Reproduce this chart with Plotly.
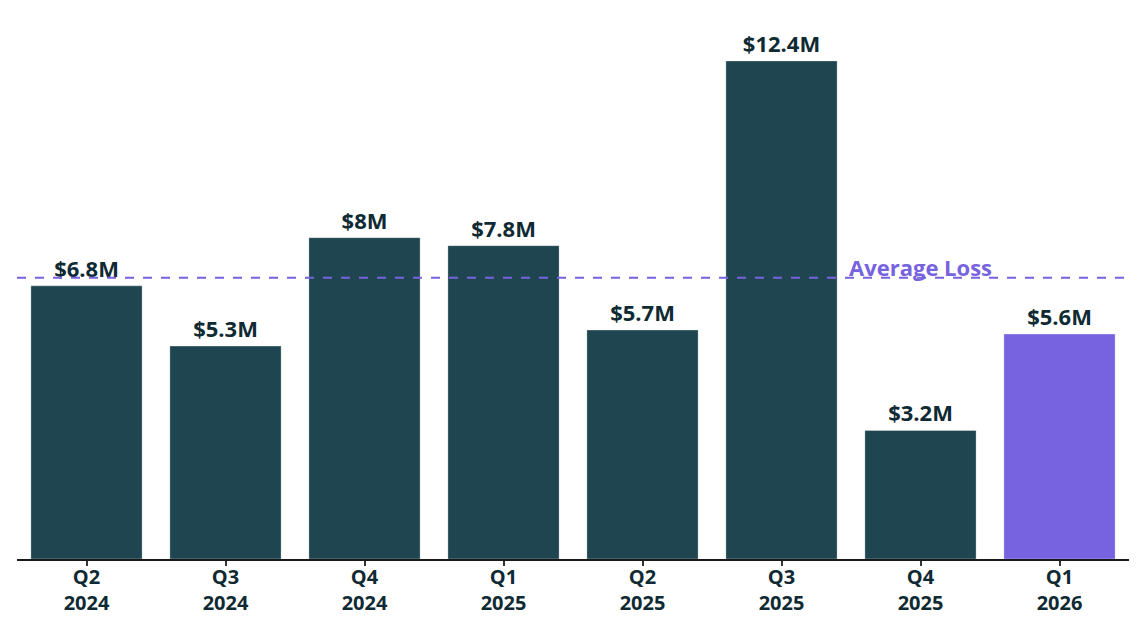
import plotly.graph_objects as go

quarters = ["Q2<br>2024", "Q3<br>2024", "Q4<br>2024", "Q1<br>2025",
            "Q2<br>2025", "Q3<br>2025", "Q4<br>2025", "Q1<br>2026"]
losses = [6.8, 5.3, 8.0, 7.8, 5.7, 12.4, 3.2, 5.6]
labels = ["$6.8M", "$5.3M", "$8M", "$7.8M", "$5.7M", "$12.4M", "$3.2M", "$5.6M"]
avg_loss = 7.0

dark = "#1f4650"
purple = "#7762e0"
ink = "#0f2a33"

colors = [dark] * (len(quarters) - 1) + [purple]

fig = go.Figure()
fig.add_trace(go.Bar(
    x=quarters, y=losses,
    text=labels, textposition="outside", cliponaxis=False,
    textfont=dict(family="Open Sans", size=22, color=ink, weight="bold"),
    marker=dict(color=colors, line=dict(color="rgba(255,255,255,0.6)", width=0.5)),
    hoverinfo="skip",
))

fig.add_hline(y=avg_loss, line=dict(color=purple, width=2, dash="dash"))
fig.add_annotation(
    x=quarters[6], y=avg_loss, xref="x", yref="y",
    text="Average Loss", showarrow=False, yanchor="bottom", yshift=-6,
    font=dict(family="Open Sans", size=22, color=purple, weight="bold"),
)

fig.update_layout(
    width=1140, height=626,
    margin=dict(l=9, r=19, t=22, b=75),
    plot_bgcolor="white", paper_bgcolor="white",
    bargap=0.2, showlegend=False,
    font=dict(family="Open Sans", color=ink),
)
fig.update_xaxes(
    showline=True, linecolor="#1a1a1a", linewidth=2,
    ticks="outside", ticklen=5, tickwidth=1.5, tickcolor="#333333",
    ticklabelstandoff=-6,
    tickfont=dict(family="Open Sans", size=20, color=ink, weight="bold"),
    showgrid=False,
)
fig.update_yaxes(visible=False, range=[0, 13.17], showgrid=False, zeroline=False)

fig.write_html("out.html")
